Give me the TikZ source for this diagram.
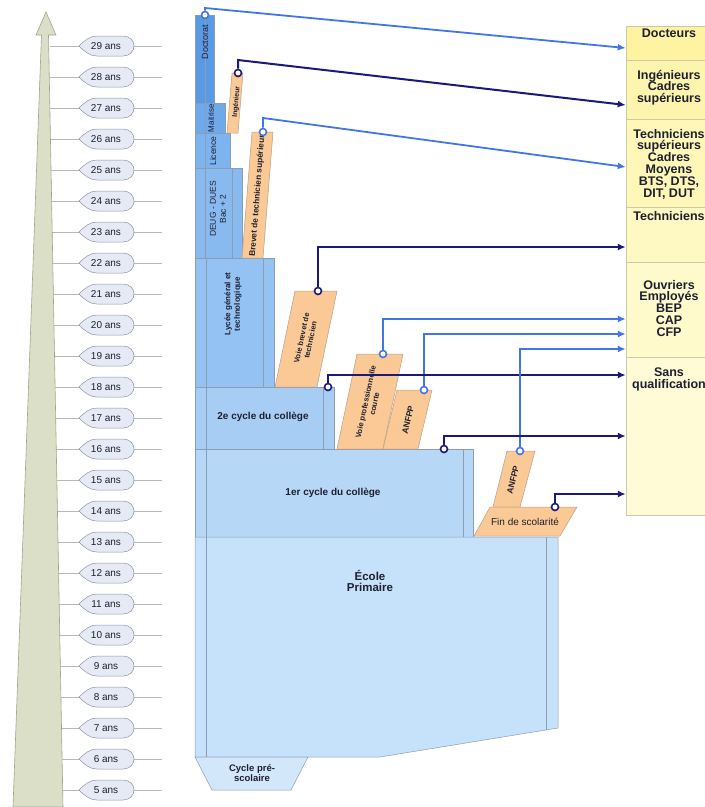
\documentclass[tikz,border=0pt]{standalone}
\usepackage{fontspec}
\setmainfont{Liberation Sans}
\usepackage{xcolor}
\usepackage{tikz}
\usetikzlibrary{positioning,arrows.meta}

\definecolor{axisfill}{HTML}{DCDFC8}
\definecolor{axisline}{HTML}{A3A58C}
\definecolor{agefill}{HTML}{E6EAF5}
\definecolor{ageline}{HTML}{8D95A8}
\definecolor{tickgray}{HTML}{B8B8B8}
\definecolor{edgeblue}{HTML}{8A9DB5}
\definecolor{bdoct}{HTML}{5A9AE4}
\definecolor{bmait}{HTML}{6EA9EB}
\definecolor{blic}{HTML}{7DB3EE}
\definecolor{bdeug}{HTML}{88BAF0}
\definecolor{blycee}{HTML}{94C2F2}
\definecolor{bcyc2}{HTML}{A8CDF5}
\definecolor{bcyc1}{HTML}{B7D7F7}
\definecolor{bprim}{HTML}{C6E1FA}
\definecolor{bpresc}{HTML}{D3E7FB}
\definecolor{orfill}{HTML}{FAC995}
\definecolor{orline}{HTML}{B79F87}
\definecolor{jobline}{HTML}{CDC9A2}
\definecolor{jobA}{HTML}{FDF3A0}
\definecolor{jobB}{HTML}{FDF5AD}
\definecolor{jobC}{HTML}{FEF7B8}
\definecolor{jobD}{HTML}{FEF8C2}
\definecolor{jobE}{HTML}{FEFACC}
\definecolor{jobF}{HTML}{FEFBD6}
\definecolor{navy}{HTML}{1B1A7A}
\definecolor{lightlink}{HTML}{4276E8}
\definecolor{ink}{HTML}{1E2030}

\begin{document}
\begin{tikzpicture}[x=1pt, y=-1pt,
  blk/.style={draw=edgeblue, line width=0.5pt},
  orbox/.style={fill=orfill, draw=orline, line width=0.5pt},
  jobbox/.style={draw=jobline, line width=0.5pt, minimum width=86pt, inner sep=0pt},
  jobtxt/.style={font=\bfseries\fontsize{12.5}{11.8}\selectfont, align=center, text=ink, inner sep=0pt},
  boldtxt/.style={font=\bfseries\fontsize{10}{11}\selectfont, align=center, text=ink},
  rottxt/.style={font=\fontsize{8.5}{10}\selectfont, align=center, text=ink, inner sep=0pt},
  rotbold/.style={font=\bfseries\fontsize{8}{9.5}\selectfont, align=center, text=ink, inner sep=0pt},
  navylink/.style={draw=navy, line width=2pt, -{Latex[length=8pt,width=7pt]}},
  bluelink/.style={draw=lightlink, line width=1.8pt, -{Latex[length=8pt,width=7pt]}},
  navydot/.style={circle, draw=navy, fill=white, line width=1.6pt, minimum size=7pt, inner sep=0pt},
  bluedot/.style={circle, draw=lightlink, fill=white, line width=1.6pt, minimum size=7pt, inner sep=0pt}]
\useasboundingbox (0,0) rectangle (705,807);

% age scale
\foreach \a in {5,...,29}{
  \pgfmathsetmacro\yy{46+(29-\a)*31}
  \draw[tickgray, line width=0.6pt] (50,\yy) -- (162,\yy);
  \filldraw[fill=agefill, draw=ageline, line width=0.5pt] (79,\yy) .. controls (85,\yy-6) and (90,\yy-10) .. (97,\yy-10) -- (123,\yy-10) .. controls (130,\yy-10) and (134,\yy-5) .. (134,\yy) .. controls (134,\yy+5) and (130,\yy+10) .. (123,\yy+10) -- (97,\yy+10) .. controls (90,\yy+10) and (85,\yy+6) .. (79,\yy) -- cycle;
  \node[font=\fontsize{10}{10}\selectfont, text=ink] (age\a) at (106,\yy) {\a{} ans};
}
\filldraw[fill=axisfill, draw=axisline, line width=0.6pt] (46,12) -- (56,35) -- (48.5,35) -- (63,807) -- (13,807) -- (41.5,35) -- (36,35) -- cycle;

% blocks
\filldraw[blk, fill=bdoct] (195,15) rectangle (214,103);
\draw[blk] (205,15) -- (205,103);
\filldraw[blk, fill=bmait] (195,103) rectangle (225,133);
\draw[blk] (205,103) -- (205,133);
\filldraw[blk, fill=blic] (195,133) rectangle (230,168);
\draw[blk] (205,133) -- (205,168);
\filldraw[blk, fill=bdeug] (195,168) rectangle (242,258);
\draw[blk] (205,168) -- (205,258) (232,168) -- (232,258);
\filldraw[blk, fill=blycee] (195,258) rectangle (274,387);
\draw[blk] (206,258) -- (206,387) (263,258) -- (263,387);
\filldraw[blk, fill=bcyc2] (195,387) rectangle (334,449);
\draw[blk] (206,387) -- (206,449) (323,387) -- (323,449);
\filldraw[blk, fill=bcyc1] (195,449) rectangle (473,537);
\draw[blk] (206,449) -- (206,537) (463,449) -- (463,537);
\filldraw[blk, fill=bprim] (195,537) -- (558,537) -- (558,728) -- (380,757) -- (195,757) -- cycle;
\draw[blk] (206,537) -- (206,757) (546,537) -- (546,730);
\filldraw[blk, fill=bpresc] (195,757) -- (308,757) -- (291,790) -- (212,790) -- cycle;

\node[rottxt, rotate=90, font=\fontsize{9}{10}\selectfont] (doct) at (205,42) {Doctorat};
\node[rottxt, rotate=90, font=\fontsize{8}{9}\selectfont] (mait) at (211,118) {Maitrise};
\node[rottxt, rotate=90] (lic) at (213,151) {Licence};
\node[rottxt, rotate=90] (deug) at (218,209) {DEUG - DUES\\Bac + 2};
\node[rotbold, rotate=90] (lycee) at (233,304) {Lycée général et\\technologique};
\node[boldtxt] (cyc2) at (263,417) {2e cycle du collège};
\node[boldtxt] (cyc1) at (333,493) {1er cycle du collège};
\node[boldtxt, font=\bfseries\fontsize{11.5}{11.5}\selectfont] (prim) at (370,581) {École\\Primaire};
\node[boldtxt, font=\bfseries\fontsize{9.5}{10}\selectfont] (presc) at (252,773) {Cycle pré-\\scolaire};

% vocational tracks
\filldraw[orbox] (227,133) -- (238,133) -- (243,73) -- (232,73) -- cycle;
\filldraw[orbox] (242,258) -- (263,258) -- (273,132) -- (252,132) -- cycle;
\filldraw[orbox] (275,387) -- (317,387) -- (337,291) -- (295,291) -- cycle;
\filldraw[orbox] (337,449) -- (383,449) -- (403,354) -- (357,354) -- cycle;
\filldraw[orbox] (383,449) -- (418,449) -- (432,390) -- (397,390) -- cycle;
\filldraw[orbox] (493,507) -- (520,507) -- (535,451) -- (507,451) -- cycle;
\filldraw[orbox] (474,536) -- (560,536) -- (577,507) -- (490,507) -- cycle;

\node[rotbold, rotate=85, font=\bfseries\fontsize{7}{7}\selectfont] (ing) at (236.5,102) {Ingénieur};
\node[rotbold, rotate=85.5, font=\bfseries\fontsize{8.3}{9}\selectfont] (bts) at (257.5,196) {Brevet de technicien supérieur};
\node[rotbold, rotate=78, font=\bfseries\fontsize{7.5}{9}\selectfont] (vbt) at (306,339) {Voie brevet de\\technicien};
\node[rotbold, rotate=78, font=\bfseries\fontsize{7.6}{9}\selectfont] (vpc) at (370,403) {Voie professionnelle\\courte};
\node[rotbold, rotate=77, font=\bfseries\fontsize{8.5}{9}\selectfont] (anfpp1) at (408,420) {ANFPP};
\node[rotbold, rotate=76, font=\bfseries\fontsize{8.5}{9}\selectfont] (anfpp2) at (513,480) {ANFPP};
\node[font=\fontsize{10}{10}\selectfont, text=ink] (fin) at (525,522) {Fin de scolarité};

% jobs
\node[jobbox, fill=jobA, minimum height=34pt] (docteurs) at (669,43) {};
\node[jobbox, fill=jobB, minimum height=59pt] (ingcad) at (669,89.5) {};
\node[jobbox, fill=jobC, minimum height=88pt] (techsup) at (669,163) {};
\node[jobbox, fill=jobD, minimum height=55pt] (techn) at (669,234.5) {};
\node[jobbox, fill=jobE, minimum height=95pt] (ouvr) at (669,309.5) {};
\node[jobbox, fill=jobF, minimum height=158pt] (sansq) at (669,436) {};

\node[jobtxt, below=2.5pt of docteurs.north] (t-doct) {Docteurs};
\node[jobtxt, below=10pt of ingcad.north] (t-ing) {Ingénieurs\\Cadres\\supérieurs};
\node[jobtxt, below=10pt of techsup.north] (t-techsup) {Techniciens\\supérieurs\\Cadres\\Moyens\\BTS, DTS,\\DIT, DUT};
\node[jobtxt, below=4.5pt of techn.north] (t-techn) {Techniciens};
\node[jobtxt, below=18pt of ouvr.north] (t-ouvr) {Ouvriers\\Employés\\BEP\\CAP\\CFP};
\node[jobtxt, below=11pt of sansq.north] (t-sansq) {Sans\\qualification};

% exits
\node[bluedot] (d-doct) at (205,15) {};
\node[navydot] (d-ing) at (238,73) {};
\node[bluedot] (d-bts) at (263,132) {};
\node[navydot] (d-vbt) at (318,291) {};
\node[bluedot] (d-vpc) at (383,354) {};
\node[bluedot] (d-anfpp1) at (424,390) {};
\node[bluedot] (d-anfpp2) at (520,451) {};
\node[navydot] (d-cyc2) at (328,387) {};
\node[navydot] (d-cyc1) at (444,449) {};
\node[navydot] (d-fin) at (555,507) {};

\draw[bluelink] (d-doct) -- ++(0,-7) -- ([yshift=-5pt]docteurs.west);
\draw[navylink] (d-ing) -- ++(0,-13) -- ([yshift=-15.5pt]ingcad.west);
\draw[bluelink] (d-bts) -- ++(0,-14) -- ([yshift=-4pt]techsup.west);
\draw[navylink] (d-vbt) |- ([yshift=-12.5pt]techn.west);
\draw[bluelink] (d-vpc) |- ([yshift=-9.5pt]ouvr.west);
\draw[bluelink] (d-anfpp1) |- ([yshift=-24.5pt]ouvr.west);
\draw[navylink] (d-cyc2) |- ([yshift=61pt]sansq.west);
\draw[bluelink] (d-anfpp2) |- ([yshift=-39.5pt]ouvr.west);
\draw[navylink] (d-cyc1) |- (sansq.west);
\draw[navylink] (d-fin) |- ([yshift=-58pt]sansq.west);
\end{tikzpicture}
\end{document}
